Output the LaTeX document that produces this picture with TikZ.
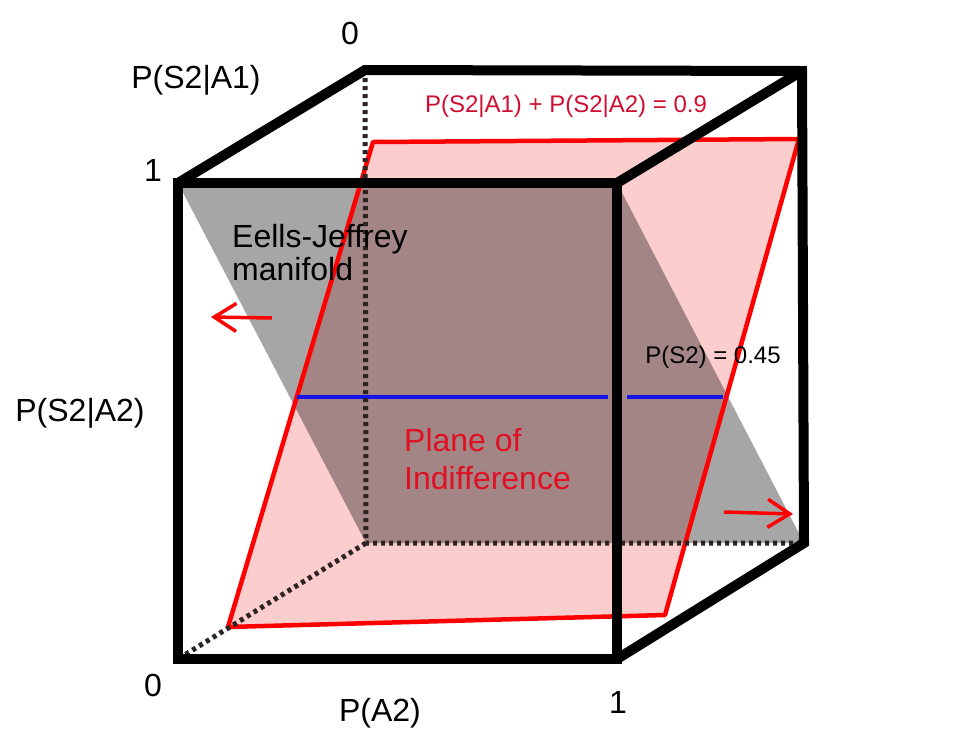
\documentclass[tikz,border=0pt]{standalone}
\usepackage{fontspec}
\setmainfont{Liberation Sans}
\usetikzlibrary{arrows.meta}
\definecolor{crim}{RGB}{205,15,50}
\definecolor{pinkfill}{RGB}{251,205,205}
\definecolor{redtxt}{RGB}{225,15,35}
\definecolor{dotc}{RGB}{45,35,35}
\definecolor{bluel}{RGB}{20,20,235}
\begin{document}
\begin{tikzpicture}[x=1pt,y=-1pt,
  edge/.style={black, line width=10pt, line join=miter},
  dotline/.style={dotc, line width=5pt, dash pattern=on 4pt off 4pt},
  redline/.style={red, line width=4.5pt, line join=round},
  blueline/.style={bluel, line width=4.5pt},
  redarrow/.style={red, line width=3.5pt, -{Straight Barb[length=22pt,width=28pt,line width=3.5pt]}},
  biglabel/.style={font=\fontsize{32}{33}\selectfont, inner sep=0pt},
  smalllabel/.style={font=\fontsize{24}{26}\selectfont, inner sep=0pt}]
\useasboundingbox (0,0) rectangle (956,753);
% cube corners
\coordinate (FTL) at (178,183);
\coordinate (FTR) at (617,183);
\coordinate (FBR) at (617,659);
\coordinate (FBL) at (178,659);
\coordinate (BTL) at (365,70);
\coordinate (BTR) at (802,71);
\coordinate (BBR) at (804,543);
\coordinate (BBL) at (366,543);
% plane of indifference corners
\coordinate (R1) at (373,142);
\coordinate (R2) at (799,139);
\coordinate (R3) at (665,615);
\coordinate (R4) at (228,627);
% blue line ends
\coordinate (B1) at (297,397);
\coordinate (B2) at (608,397);
\coordinate (B3) at (627,397);
\coordinate (B4) at (723,397);
% arrows
\coordinate (LA1) at (272,318);
\coordinate (LA2) at (211,317);
\coordinate (RA1) at (724,512);
\coordinate (RA2) at (793,514);

\fill[pinkfill] (R1) -- (R2) -- (R3) -- (R4) -- cycle;
\fill[black, opacity=0.35] (FTL) -- (FTR) -- (BBR) -- (BBL) -- cycle;
\draw[redline] (R1) -- (R2) -- (R3) -- (R4) -- cycle;
\draw[blueline] (B1) -- (B2);
\draw[blueline] (B3) -- (B4);
\draw[dotline] (BTL) -- (BBL) -- (BBR);
\draw[dotline] (BBL) -- (FBL);
\draw[redarrow] (LA1) -- (LA2);
\draw[redarrow] (RA1) -- (RA2);

\draw[edge] (FTL) -- (FTR) -- (FBR) -- (FBL) -- cycle;
\draw[edge] (FTL) -- (BTL) -- (BTR) -- (BBR) -- (FBR);
\draw[edge] (BTR) -- (FTR);

\node[biglabel] (z1) at (350,33) {0};
\node[biglabel] (ps2a1) at (196,80) {P(S2|A1)};
\node[biglabel] (o1) at (153,170) {1};
\node[biglabel] (ps2a2) at (80,413) {P(S2|A2)};
\node[biglabel] (z2) at (153,685) {0};
\node[biglabel] (pa2) at (380,713) {P(A2)};
\node[biglabel] (o2) at (618,702) {1};
\node[smalllabel, text=crim] (sum) at (566,106) {P(S2|A1) + P(S2|A2) = 0.9};
\node[biglabel, anchor=west, align=left] (ej) at (232,253) {Eells-Jeffrey\\manifold};
\node[smalllabel] (ps2) at (713,357) {P(S2) = 0.45};
\node[biglabel, text=redtxt, anchor=west, align=left, font=\fontsize{32}{38}\selectfont] (poi) at (404,459) {Plane of\\Indifference};
\end{tikzpicture}
\end{document}
